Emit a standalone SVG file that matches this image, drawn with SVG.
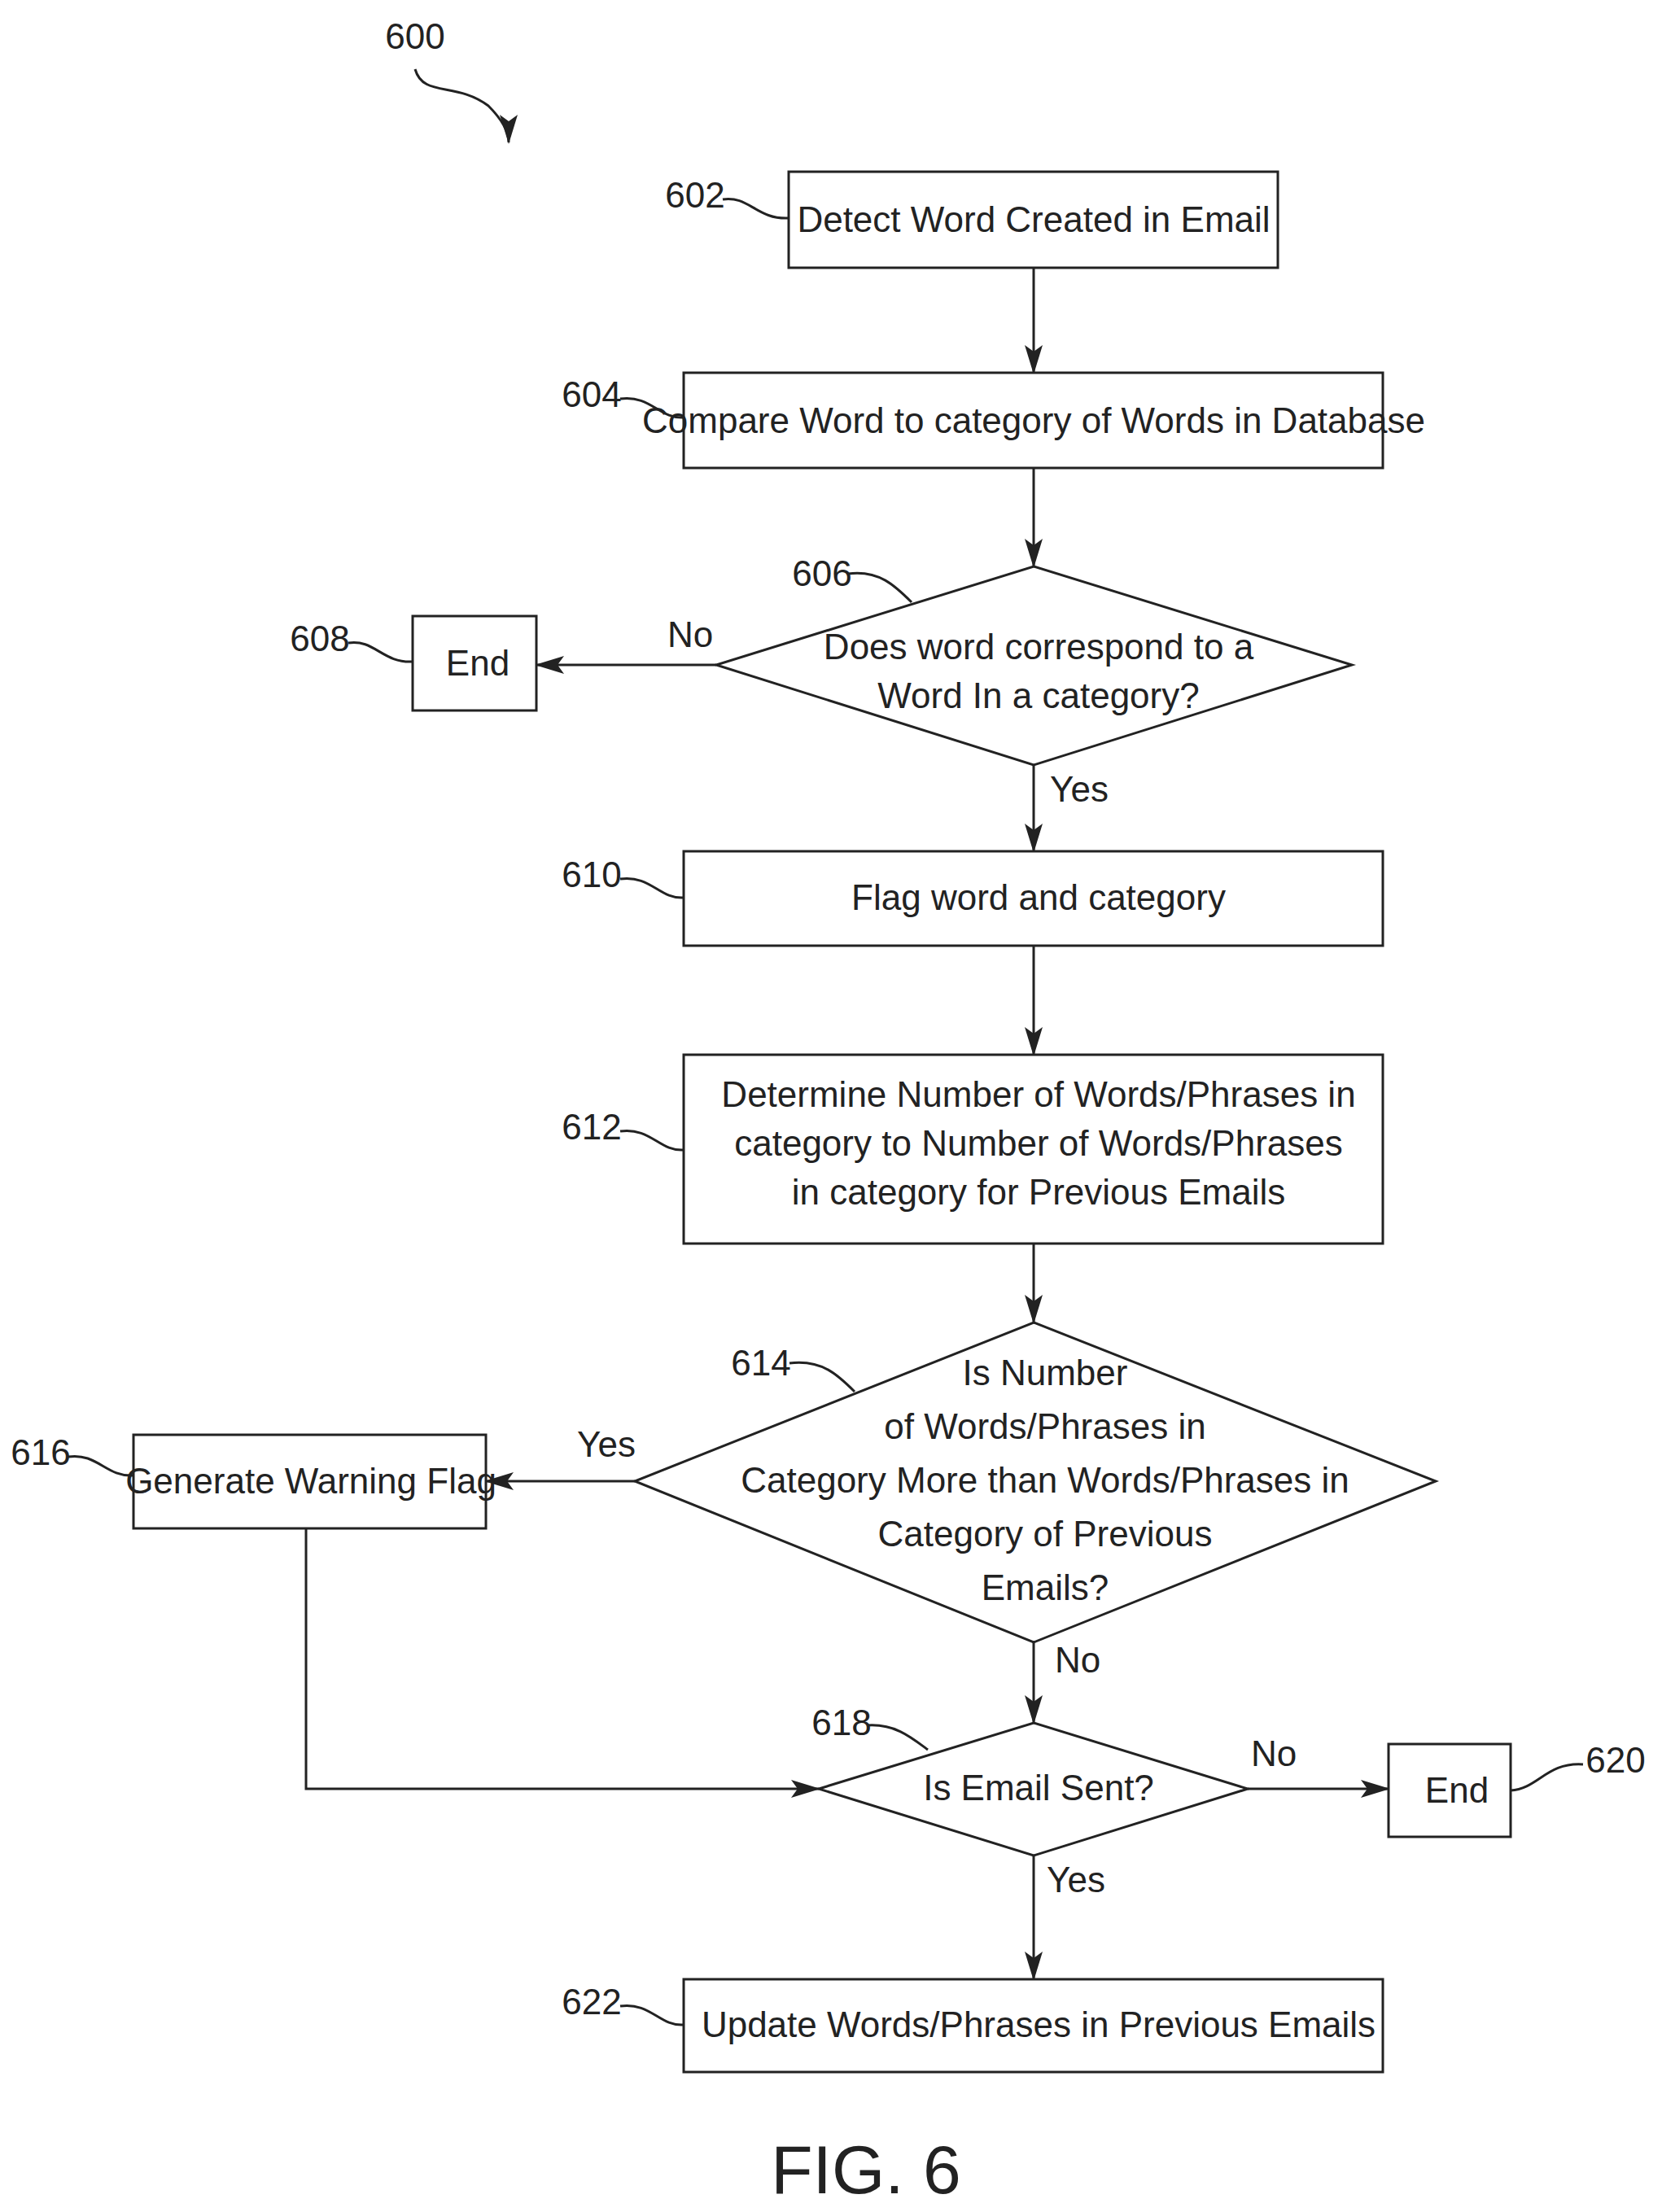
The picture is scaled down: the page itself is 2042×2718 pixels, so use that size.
<svg xmlns="http://www.w3.org/2000/svg" width="2042" height="2718" viewBox="0 0 2042 2718">
<style>
.n{fill:#fff;stroke:#222;stroke-width:3}
text{font-family:"Liberation Sans",Arial,sans-serif;font-size:44px;fill:#222;text-anchor:middle}
.l{stroke:#222;stroke-width:3;fill:none}
</style>
<defs><marker id="a" markerWidth="12" markerHeight="10" refX="11" refY="5" orient="auto" markerUnits="userSpaceOnUse" viewBox="0 0 12 10"><path d="M0,0 L12,5 L0,10 Z" fill="#222"/></marker>
<marker id="b" markerWidth="36" markerHeight="22" refX="34" refY="11" orient="auto" markerUnits="userSpaceOnUse"><path d="M0,0 L36,11 L0,22 L8,11 Z" fill="#222"/></marker></defs>
<g id="connectors">
<path class="l" marker-end="url(#b)" d="M1270,329 V458"/>
<path class="l" marker-end="url(#b)" d="M1270,575 V696"/>
<path class="l" marker-end="url(#b)" d="M880,817 H659"/>
<path class="l" marker-end="url(#b)" d="M1270,940 V1046"/>
<path class="l" marker-end="url(#b)" d="M1270,1162 V1296"/>
<path class="l" marker-end="url(#b)" d="M1270,1528 V1625"/>
<path class="l" marker-end="url(#b)" d="M780,1820 H597"/>
<path class="l" marker-end="url(#b)" d="M1270,2018 V2117"/>
<path class="l" marker-end="url(#b)" d="M376,1878 V2198 H1006"/>
<path class="l" marker-end="url(#b)" d="M1533,2198 H1706"/>
<path class="l" marker-end="url(#b)" d="M1270,2280 V2432"/>
<text x="848" y="795">No</text><text x="1326" y="985">Yes</text>
<text x="745" y="1790">Yes</text><text x="1324" y="2055">No</text>
<text x="1565" y="2170">No</text><text x="1322" y="2325">Yes</text>
</g>
<g id="n600"><text x="510" y="60">600</text><path class="l" marker-end="url(#b)" d="M510,85 C520,120 560,100 600,130 C615,145 625,160 625,175"/></g>
<g id="n602"><rect class="n" x="969" y="211" width="601" height="118"/><text x="1270" y="285">Detect Word Created in Email</text><text x="854" y="255">602</text><path class="l" d="M888,245 C920,240 930,270 969,268"/></g>
<g id="n604"><rect class="n" x="840" y="458" width="859" height="117"/><text x="1270" y="532">Compare Word to category of Words in Database</text><text x="727" y="500">604</text><path class="l" d="M762,490 C800,485 810,515 840,513"/></g>
<g id="n606"><polygon class="n" points="1270,696 1661,817 1270,940 880,817"/><text x="1276" y="810">Does word correspond to a</text><text x="1276" y="870">Word In a category?</text><text x="1010" y="720">606</text><path class="l" d="M1042,705 C1080,700 1100,720 1120,740"/></g>
<g id="n608"><rect class="n" x="507" y="757" width="152" height="116"/><text x="587" y="830">End</text><text x="393" y="800">608</text><path class="l" d="M428,790 C460,785 470,815 507,813"/></g>
<g id="n610"><rect class="n" x="840" y="1046" width="859" height="116"/><text x="1276" y="1118">Flag word and category</text><text x="727" y="1090">610</text><path class="l" d="M762,1080 C800,1075 810,1105 840,1103"/></g>
<g id="n612"><rect class="n" x="840" y="1296" width="859" height="232"/><text x="1276" y="1360">Determine Number of Words/Phrases in</text><text x="1276" y="1420">category to Number of Words/Phrases</text><text x="1276" y="1480">in category for Previous Emails</text><text x="727" y="1400">612</text><path class="l" d="M762,1390 C800,1385 810,1415 840,1413"/></g>
<g id="n614"><polygon class="n" points="1270,1625 1764,1820 1270,2018 780,1820"/><text x="1284" y="1702">Is Number</text><text x="1284" y="1768">of Words/Phrases in</text><text x="1284" y="1834">Category More than Words/Phrases in</text><text x="1284" y="1900">Category of Previous</text><text x="1284" y="1966">Emails?</text><text x="935" y="1690">614</text><path class="l" d="M970,1675 C1010,1670 1030,1690 1050,1710"/></g>
<g id="n616"><rect class="n" x="164" y="1763" width="433" height="115"/><text x="382" y="1835">Generate Warning Flag</text><text x="50" y="1800">616</text><path class="l" d="M84,1790 C120,1785 130,1815 164,1813"/></g>
<g id="n618"><polygon class="n" points="1270,2117 1533,2198 1270,2280 1006,2198"/><text x="1276" y="2212">Is Email Sent?</text><text x="1034" y="2132">618</text><path class="l" d="M1066,2120 C1100,2118 1120,2135 1140,2150"/></g>
<g id="n620"><rect class="n" x="1706" y="2143" width="150" height="114"/><text x="1790" y="2215">End</text><text x="1985" y="2178">620</text><path class="l" d="M1856,2200 C1890,2198 1900,2165 1945,2168"/></g>
<g id="n622"><rect class="n" x="840" y="2432" width="859" height="114"/><text x="1276" y="2503">Update Words/Phrases in Previous Emails</text><text x="727" y="2475">622</text><path class="l" d="M762,2465 C800,2460 810,2490 840,2488"/></g>
<text x="1064" y="2695" style="font-size:84px">FIG. 6</text>
</svg>
